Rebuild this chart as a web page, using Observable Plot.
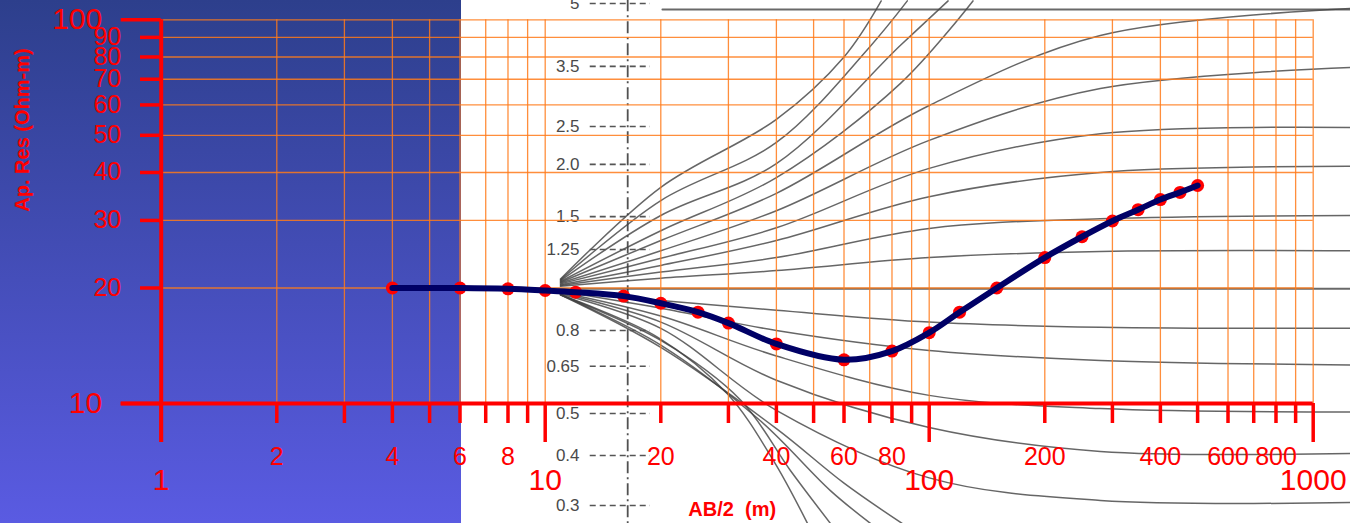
<!DOCTYPE html>
<html><head><meta charset="utf-8">
<script src="https://cdn.jsdelivr.net/npm/d3@7"></script>
<script src="https://cdn.jsdelivr.net/npm/@observablehq/plot@0.6"></script>
<style>
html,body{margin:0;padding:0;background:#fff;}
#wrap{position:relative;width:1350px;height:523px;overflow:hidden;background:#fff;}
#bg{position:absolute;left:0;top:0;width:461px;height:523px;background:linear-gradient(#2d3f8c,#5a5be2);}
#chart{position:absolute;left:0;top:0;}
</style></head><body>
<div id="wrap"><div id="bg"></div><div id="chart"></div></div>
<script>
// Field sounding (AB/2 in m, apparent resistivity in Ohm-m)
const abHalf = [4,6,8,10,12,16,20,25,30,40,60,80,100,120,150,200,250,300,350,400,450,500];
const appRes = [20.0,20.0,19.9,19.7,19.5,19.05,18.25,17.3,16.2,14.3,13.0,13.7,15.3,17.3,20.0,24.0,27.2,29.9,32.0,34.0,35.5,37.0];

// Axis ticks and labels
const xMajor = [1,10,100,1000];
const xMinor = [2,3,4,5,6,7,8,9,20,30,40,50,60,70,80,90,200,300,400,500,600,700,800,900];
const xMinorLabels = [2,4,6,8,20,40,60,80,200,400,600,800];
const yMajor = [10,100];
const yMinor = [20,30,40,50,60,70,80,90];
const xGrid = [2,3,4,5,6,7,8,9,10,20,30,40,50,60,70,80,90,100,200,300,400,500,600,700,800,900,1000];
const yGrid = [20,30,40,50,60,70,80,90,100];

// Background two-layer master curves (in chart units)
const curveAB = [10.96,20,40,100,279,1250];
const rho125 = [20.2,21.2,22.2,24.0,24.9,25.0];
const rho15  = [20.3,22.0,24.0,28.6,30.3,30.9];
const rho20  = [20.4,22.9,26.6,34.6,40.0,41.5];
const rho25  = [20.5,23.9,28.7,41.0,50.5,52.4];
const rho35  = [20.6,25.0,31.8,48.5,66.2,75.1];
const rho5   = [20.7,26.6,35.3,59.8,91.0,107];
const rho08  = [19.7,18.55,17.5,16.3,15.8,15.7];
const rho065 = [19.6,17.7,15.5,13.75,12.95,12.6];
const rho05  = [19.5,16.9,13.3,10.5,9.7,9.5];
const rho04  = [19.4,16.3,11.5,8.66,7.5,7.41];
const rho03  = [19.3,15.7,9.6,6.4,5.59,5.52];
const steepUp1 = [[10.96,20.8],[20,28.2],[40,38.8],[84.2,68.3],[130,112]];
const steepUp2 = [[10.96,20.9],[20,30.9],[40,42.2],[84.2,85.8],[112,112]];
const steepUp3 = [[10.96,21.0],[20,33.8],[40,47.9],[70,85],[87.7,112]];
const steepUp4 = [[10.96,21.1],[20,36.6],[40,55],[60,80],[75,112]];
const steepDn1 = [[10.96,19.2],[19.6,14.9],[29.8,10.6],[39.3,7.1],[48.2,4.87]];
const steepDn2 = [[10.96,19.2],[20,14.6],[32.3,10.2],[43.5,6.69],[55.3,4.87]];
const steepDn3 = [[10.96,19.2],[20,14.2],[36.4,9.0],[55.3,5.93],[70.3,4.87]];
const steepDn4 = [[10.96,19.2],[20,14.0],[40,8.6],[60,6.2],[85,4.87]];
const unityLine = [[10.5,19.9],[1250,19.9]];
const topLine = [[20.2,106.4],[1250,106.4]];
const scanLabels = ["5","3.5","2.5","2.0","1.5","1.25","0.8","0.65","0.5","0.4","0.3"];
const scanLabelRes = [110.3,75.6,52.7,42.0,30.7,25.2,15.5,12.5,9.42,7.32,5.42];
const scanLabelAB = 12.36;
const scanTickAB = [13.1,18.8];
const crossAB = 16.4;

const sounding = abHalf.map((x,i)=>({x, y: appRes[i]}));
const smoothSets = [rho125,rho15,rho20,rho25,rho35,rho5,rho08,rho065,rho05,rho04,rho03];
const master = [];
smoothSets.forEach((arr,k)=>arr.forEach((v,i)=>master.push({id:"c"+k, x:curveAB[i], y:v})));
[steepUp1,steepUp2,steepUp3,steepUp4,steepDn1,steepDn2,steepDn3,steepDn4].forEach((arr,k)=>arr.forEach(([x,y])=>master.push({id:"s"+k, x, y})));
const straight = [];
[unityLine, topLine].forEach((arr,k)=>arr.forEach(([x,y])=>straight.push({id:"l"+k, x, y})));
const scanLab = scanLabels.map((t,i)=>({t, y: scanLabelRes[i]}));

const RED = "#ff0000";
const GRID = "#ff7a1a";
const FONT = "Liberation Sans, Arial, Helvetica, sans-serif";
const frameH = 523 - 120 - 19.3;
const frameW = 1350 - 160.7 - 37.3;
const fmt = d => String(d);

const chart = Plot.plot({
  width: 1350, height: 523,
  marginLeft: 160.7, marginRight: 37.3, marginTop: 19.3, marginBottom: 120,
  x: {type: "log", domain: [1, 1000], axis: null},
  y: {type: "log", domain: [10, 100], axis: null},
  style: {background: "transparent", fontFamily: FONT, overflow: "visible"},
  marks: [
    // scanned master-curve sheet
    Plot.ruleX([crossAB], {stroke: "#333", strokeWidth: 1.8, strokeDasharray: "12,4,2,4", insetTop: -20, insetBottom: -121, strokeOpacity: 0.85}),
    Plot.line(master, {x: "x", y: "y", z: "id", curve: "catmull-rom", stroke: "#404040", strokeWidth: 1.5, strokeOpacity: 0.8}),
    Plot.line(straight, {x: "x", y: "y", z: "id", stroke: "#444", strokeWidth: 2, strokeOpacity: 0.8}),
    Plot.ruleY(scanLab, {y: "y", x1: scanTickAB[0], x2: scanTickAB[1], stroke: "#555", strokeWidth: 1.6, strokeDasharray: "6,4"}),
    Plot.text(scanLab, {x: scanLabelAB, y: "y", text: "t", textAnchor: "end", fontSize: 17, fill: "#4a4a4a", dx: -1}),
    // grid
    Plot.ruleX(xGrid, {stroke: GRID, strokeWidth: 1.3, strokeOpacity: 0.85}),
    Plot.ruleY(yGrid, {stroke: GRID, strokeWidth: 1.3, strokeOpacity: 0.85}),
    // axes
    Plot.ruleX([1], {stroke: RED, strokeWidth: 4, insetBottom: -39}),
    Plot.ruleY([10], {stroke: RED, strokeWidth: 4, insetLeft: -40}),
    Plot.ruleX(xMinor, {stroke: RED, strokeWidth: 3.5, insetTop: frameH, insetBottom: -20}),
    Plot.ruleX(xMajor, {stroke: RED, strokeWidth: 3.5, insetTop: frameH, insetBottom: -39}),
    Plot.ruleY(yMinor, {stroke: RED, strokeWidth: 3.5, insetRight: frameW, insetLeft: -20.7}),
    Plot.ruleY(yMajor, {stroke: RED, strokeWidth: 3.5, insetRight: frameW, insetLeft: -40}),
    Plot.text(xMinorLabels, {x: d => d, text: fmt, frameAnchor: "bottom", dy: 53, lineAnchor: "middle", fontSize: 25, fill: RED}),
    Plot.text(xMajor, {x: d => d, text: fmt, frameAnchor: "bottom", dy: 77, lineAnchor: "middle", fontSize: 30, fill: RED}),
    Plot.text(yMinor, {y: d => d, text: fmt, frameAnchor: "left", dx: -40, textAnchor: "end", lineAnchor: "middle", fontSize: 25, fill: RED}),
    Plot.text(yMajor, {y: d => d, text: fmt, frameAnchor: "left", dx: -59, textAnchor: "end", lineAnchor: "middle", fontSize: 30, fill: RED}),
    Plot.text(["Ap. Res (Ohm-m)"], {frameAnchor: "left", dx: -138.7, rotate: -90, lineAnchor: "middle", fontSize: 20, fontWeight: "bold", fill: RED}),
    Plot.text(["AB/2\u00a0 (m)"], {frameAnchor: "bottom", dx: -5, dy: 106, lineAnchor: "middle", fontSize: 20, fontWeight: "bold", fill: RED}),
    // sounding data
    Plot.dot(sounding, {x: "x", y: "y", r: 6.5, fill: RED, stroke: "none"}),
    Plot.line(sounding, {x: "x", y: "y", curve: "catmull-rom", stroke: "#000066", strokeWidth: 6})
  ]
});
document.getElementById("chart").appendChild(chart);
</script>
</body></html>
